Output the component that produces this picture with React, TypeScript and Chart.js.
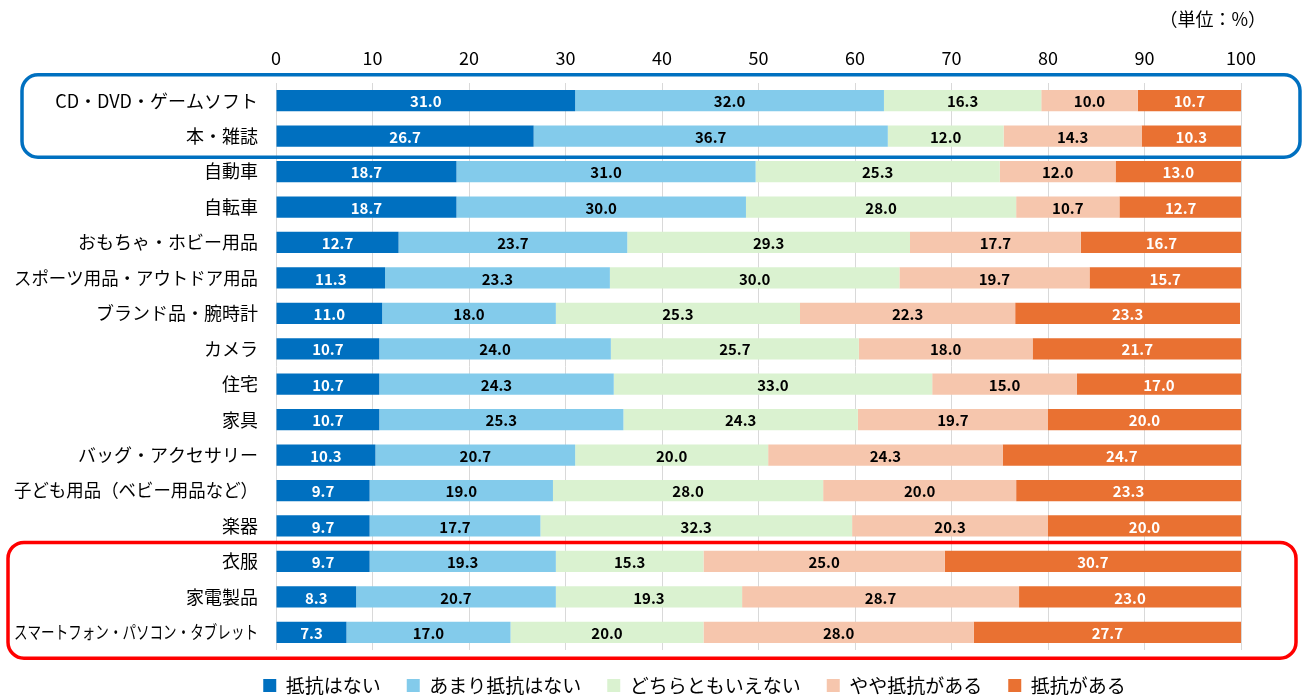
import React, { useEffect, useRef } from "react";
import { Chart, registerables } from "chart.js";

Chart.register(...registerables);

const categories = [
  "CD・DVD・ゲームソフト",
  "本・雑誌",
  "自動車",
  "自転車",
  "おもちゃ・ホビー用品",
  "スポーツ用品・アウトドア用品",
  "ブランド品・腕時計",
  "カメラ",
  "住宅",
  "家具",
  "バッグ・アクセサリー",
  "子ども用品（ベビー用品など）",
  "楽器",
  "衣服",
  "家電製品",
  "スマートフォン・パソコン・タブレット",
];

const seriesNames = ["抵抗はない", "あまり抵抗はない", "どちらともいえない", "やや抵抗がある", "抵抗がある"];

const noResistance = [31.0, 26.7, 18.7, 18.7, 12.7, 11.3, 11.0, 10.7, 10.7, 10.7, 10.3, 9.7, 9.7, 9.7, 8.3, 7.3];
const littleResistance = [32.0, 36.7, 31.0, 30.0, 23.7, 23.3, 18.0, 24.0, 24.3, 25.3, 20.7, 19.0, 17.7, 19.3, 20.7, 17.0];
const neutral = [16.3, 12.0, 25.3, 28.0, 29.3, 30.0, 25.3, 25.7, 33.0, 24.3, 20.0, 28.0, 32.3, 15.3, 19.3, 20.0];
const someResistance = [10.0, 14.3, 12.0, 10.7, 17.7, 19.7, 22.3, 18.0, 15.0, 19.7, 24.3, 20.0, 20.3, 25.0, 28.7, 28.0];
const resistance = [10.7, 10.3, 13.0, 12.7, 16.7, 15.7, 23.3, 21.7, 17.0, 20.0, 24.7, 23.3, 20.0, 30.7, 23.0, 27.7];

const seriesValues = [noResistance, littleResistance, neutral, someResistance, resistance];
const seriesColors = ["#0070C0", "#83CBEB", "#DAF2D0", "#F6C6AD", "#E97132"];
const labelColors = ["#ffffff", "#000000", "#000000", "#000000", "#ffffff"];

const xMin = 0;
const xMax = 100;
const xStep = 10;
const unitLabel = "（単位：%）";

const JP = "'Noto Sans CJK JP', 'Noto Sans', sans-serif";

const dataLabelPlugin = {
  id: "dataLabels",
  afterDatasetsDraw(chart: any) {
    const ctx = chart.ctx;
    ctx.save();
    ctx.font = `bold 15px ${JP}`;
    ctx.textAlign = "center";
    ctx.textBaseline = "middle";
    chart.data.datasets.forEach((ds: any, di: number) => {
      const meta = chart.getDatasetMeta(di);
      meta.data.forEach((bar: any, i: number) => {
        const v = ds.data[i];
        const { x, base, y } = bar.getProps(["x", "base", "y"], true);
        ctx.fillStyle = labelColors[di];
        ctx.fillText(Number(v).toFixed(1), (x + base) / 2, y + 1);
      });
    });
    ctx.restore();
  },
};

const yLabelPlugin = {
  id: "yLabels",
  afterDraw(chart: any) {
    const ctx = chart.ctx;
    const ys = chart.scales.y;
    ctx.save();
    ctx.font = `18px ${JP}`;
    ctx.fillStyle = "#000000";
    ctx.textAlign = "right";
    ctx.textBaseline = "middle";
    (chart.data.labels as string[]).forEach((lab, i) => {
      const y = ys.getPixelForValue(i);
      ctx.fillText(lab, chart.chartArea.left - 18, y, 244);
    });
    ctx.font = `18px ${JP}`;
    ctx.textAlign = "right";
    ctx.fillText(unitLabel, 1266, 19);
    ctx.restore();
  },
};

const legendShiftPlugin = {
  id: "legendShift",
  afterLayout(chart: any) {
    if (chart.legend) {
      chart.legend.left += 74;
      chart.legend.right += 74;
    }
  },
};

function roundRect(ctx: any, x: number, y: number, w: number, h: number, r: number) {
  ctx.beginPath();
  ctx.moveTo(x + r, y);
  ctx.lineTo(x + w - r, y);
  ctx.arcTo(x + w, y, x + w, y + r, r);
  ctx.lineTo(x + w, y + h - r);
  ctx.arcTo(x + w, y + h, x + w - r, y + h, r);
  ctx.lineTo(x + r, y + h);
  ctx.arcTo(x, y + h, x, y + h - r, r);
  ctx.lineTo(x, y + r);
  ctx.arcTo(x, y, x + r, y, r);
  ctx.closePath();
}

const boxesPlugin = {
  id: "highlightBoxes",
  afterDraw(chart: any) {
    const ctx = chart.ctx;
    const ys = chart.scales.y;
    ctx.save();
    ctx.lineWidth = 3.5;
    const bTop = ys.getPixelForValue(0) - 26;
    const bBot = ys.getPixelForValue(1) + 21;
    ctx.strokeStyle = "#0070C0";
    roundRect(ctx, 22, bTop, 1278, bBot - bTop, 16);
    ctx.stroke();
    const rTop = ys.getPixelForValue(13) - 19;
    const rBot = ys.getPixelForValue(15) + 26;
    ctx.strokeStyle = "#FF0000";
    roundRect(ctx, 8, rTop, 1288, rBot - rTop, 16);
    ctx.stroke();
    ctx.restore();
  },
};

export default function App() {
  const ref = useRef<HTMLCanvasElement | null>(null);

  useEffect(() => {
    if (!ref.current) return;
    const chart = new Chart(ref.current, {
      type: "bar",
      data: {
        labels: categories,
        datasets: seriesNames.map((name, i) => ({
          label: name,
          data: seriesValues[i],
          backgroundColor: seriesColors[i],
          borderWidth: 0,
          categoryPercentage: 1,
          barPercentage: 0.6,
        })),
      },
      options: {
        indexAxis: "y",
        animation: false,
        responsive: true,
        maintainAspectRatio: false,
        layout: { padding: { top: 35, right: 63, left: 0, bottom: -5 } },
        scales: {
          x: {
            position: "top",
            stacked: true,
            min: xMin,
            max: xMax,
            ticks: {
              stepSize: xStep,
              color: "#000000",
              font: { family: JP, size: 18 },
              padding: 14,
            },
            grid: { color: "#D9D9D9", lineWidth: 1, drawTicks: false },
            border: { display: false },
            afterFit: (scale: any) => {
              scale.height = 48;
            },
          },
          y: {
            stacked: true,
            ticks: { display: false },
            grid: { display: false },
            border: { display: false },
            afterFit: (scale: any) => {
              scale.width = 276;
            },
          },
        },
        plugins: {
          legend: {
            position: "bottom",
            labels: {
              boxWidth: 13,
              boxHeight: 13,
              padding: 26,
              color: "#000000",
              font: { family: JP, size: 19 },
            },
          },
          tooltip: { enabled: false },
        },
      },
      plugins: [dataLabelPlugin, yLabelPlugin, boxesPlugin, legendShiftPlugin],
    } as any);
    return () => chart.destroy();
  }, []);

  return (
    <div style={{ position: "absolute", left: 0, top: 0, width: 1304, height: 700, background: "#ffffff" }}>
      <canvas ref={ref} />
    </div>
  );
}
